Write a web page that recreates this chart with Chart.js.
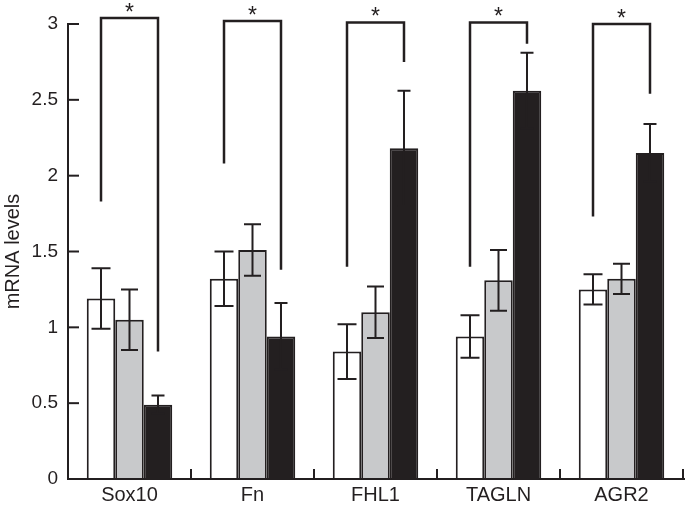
<!DOCTYPE html>
<html>
<head>
<meta charset="utf-8">
<script src="https://cdn.jsdelivr.net/npm/chart.js@4.4.1/dist/chart.umd.min.js"></script>
<style>
  html, body { margin: 0; padding: 0; background: #fff; }
  #wrap { width: 685px; height: 505px; }
</style>
</head>
<body>
<div id="wrap"><canvas id="mrnaChart" width="685" height="505"></canvas></div>
<script>
// values
const categories = ['Sox10', 'Fn', 'FHL1', 'TAGLN', 'AGR2'];
const whiteVals = [1.19, 1.32, 0.84, 0.94, 1.25];
const whiteErr  = [0.20, 0.18, 0.18, 0.14, 0.10];
const grayVals  = [1.05, 1.51, 1.10, 1.31, 1.32];
const grayErr   = [0.20, 0.17, 0.17, 0.20, 0.10];
const blackVals = [0.49, 0.94, 2.18, 2.56, 2.15];
const blackErr  = [0.06, 0.22, 0.38, 0.25, 0.19];
const yTicks = [0, 0.5, 1, 1.5, 2, 2.5, 3];

// significance brackets (value units): top bar, left leg end, right leg end
const bracketTop      = [3.04, 3.02, 3.01, 3.01, 3.00];
const bracketLeftEnd  = [1.83, 2.08, 1.40, 1.40, 1.73];
const bracketRightEnd = [0.84, 1.38, 2.75, 2.87, 2.54];

const errors = [whiteErr, grayErr, blackErr];
const capWidths = [19, 17, 13];
const ink = '#231f20';
const fontFamily = '"Liberation Sans", Arial, sans-serif';

// error bars, inward ticks, separators and brackets
const extrasPlugin = {
  id: 'extras',
  afterDatasetsDraw(chart) {
    const ctx = chart.ctx;
    const y = chart.scales.y;
    ctx.save();
    ctx.strokeStyle = ink;
    ctx.lineWidth = 2;
    errors.forEach((errArr, di) => {
      const meta = chart.getDatasetMeta(di);
      meta.data.forEach((bar, i) => {
        const v = chart.data.datasets[di].data[i];
        const hi = y.getPixelForValue(v + errArr[i]);
        const lo = y.getPixelForValue(v - errArr[i]);
        const hw = capWidths[di] / 2;
        ctx.beginPath();
        ctx.moveTo(bar.x, hi);
        ctx.lineTo(bar.x, lo);
        ctx.moveTo(bar.x - hw, hi);
        ctx.lineTo(bar.x + hw, hi);
        ctx.moveTo(bar.x - hw, lo);
        ctx.lineTo(bar.x + hw, lo);
        ctx.stroke();
      });
    });
    ctx.restore();
  },
  afterDraw(chart) {
    const ctx = chart.ctx;
    const x = chart.scales.x;
    const y = chart.scales.y;
    const area = chart.chartArea;
    ctx.save();
    ctx.strokeStyle = ink;
    ctx.lineWidth = 2;

    // x axis line across the full width
    ctx.beginPath();
    ctx.moveTo(area.left - 1, area.bottom);
    ctx.lineTo(chart.width, area.bottom);
    ctx.stroke();

    // inward y ticks
    yTicks.forEach(t => {
      if (t === 0) return;
      const py = y.getPixelForValue(t);
      ctx.beginPath();
      ctx.moveTo(area.left, py);
      ctx.lineTo(area.left + 11, py);
      ctx.stroke();
    });

    // category separators pointing up
    const step = (area.right - area.left) / categories.length;
    categories.forEach((c, i) => {
      const px = x.getPixelForValue(i) + step / 2;
      ctx.beginPath();
      ctx.moveTo(px, area.bottom);
      ctx.lineTo(px, area.bottom - 10);
      ctx.stroke();
    });

    // brackets with asterisks
    const whiteMeta = chart.getDatasetMeta(0);
    const blackMeta = chart.getDatasetMeta(2);
    ctx.lineWidth = 2.5;
    ctx.lineJoin = 'miter';
    ctx.fillStyle = ink;
    ctx.font = '23px ' + fontFamily;
    ctx.textAlign = 'center';
    ctx.textBaseline = 'alphabetic';
    categories.forEach((c, i) => {
      const lx = whiteMeta.data[i].x;
      const rx = blackMeta.data[i].x;
      const top = y.getPixelForValue(bracketTop[i]);
      ctx.beginPath();
      ctx.moveTo(lx, y.getPixelForValue(bracketLeftEnd[i]));
      ctx.lineTo(lx, top);
      ctx.lineTo(rx, top);
      ctx.lineTo(rx, y.getPixelForValue(bracketRightEnd[i]));
      ctx.stroke();
      ctx.fillText('*', (lx + rx) / 2, top + 2);
    });
    ctx.restore();
  }
};

const ctx = document.getElementById('mrnaChart').getContext('2d');
const mrnaChart = new Chart(ctx, {
  type: 'bar',
  data: {
    labels: categories,
    datasets: [
      { label: 'white', data: whiteVals, backgroundColor: '#ffffff', borderColor: ink, borderWidth: 2 },
      { label: 'gray', data: grayVals, backgroundColor: '#c8c9cb', borderColor: ink, borderWidth: 2 },
      { label: 'black', data: blackVals, backgroundColor: ink, borderColor: ink, borderWidth: 2 }
    ]
  },
  options: {
    responsive: false,
    animation: false,
    devicePixelRatio: 1,
    layout: { padding: { top: 24, right: 2, left: 0, bottom: 0 } },
    datasets: {
      bar: { categoryPercentage: 0.695, barPercentage: 1.0 }
    },
    plugins: {
      legend: { display: false },
      tooltip: { enabled: false }
    },
    scales: {
      x: {
        grid: { display: false, drawTicks: false },
        border: { display: false },
        ticks: {
          color: ink,
          padding: 4,
          font: { family: fontFamily, size: 20 }
        },
        afterFit(scale) { scale.height = 26; }
      },
      y: {
        min: 0,
        max: 3,
        afterBuildTicks(scale) { scale.ticks = yTicks.map(v => ({ value: v })); },
        grid: { display: false, drawTicks: false },
        border: { display: true, color: ink, width: 2 },
        ticks: {
          color: ink,
          padding: 10,
          font: { family: fontFamily, size: 19 },
          callback: v => String(v)
        },
        title: {
          display: true,
          text: 'mRNA levels',
          color: ink,
          padding: { top: 1, bottom: 0 },
          font: { family: fontFamily, size: 20 }
        },
        afterFit(scale) { scale.width = 68; }
      }
    }
  },
  plugins: [extrasPlugin]
});
</script>
</body>
</html>
